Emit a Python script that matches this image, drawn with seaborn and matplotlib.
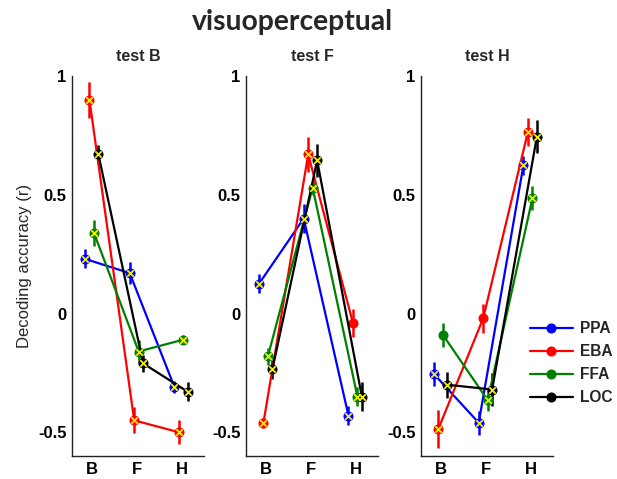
import numpy as np
import pandas as pd
import seaborn as sns
import matplotlib.pyplot as plt

# data
tests = ["test B", "test F", "test H"]
cond = ["B", "F", "H"]
rois = ["PPA", "EBA", "FFA", "LOC"]
colors = {"PPA": "#0000ff", "EBA": "#ff0000", "FFA": "#008000", "LOC": "#000000"}
offsets = {"PPA": -0.16, "EBA": -0.06, "FFA": 0.04, "LOC": 0.14}

# mean decoding accuracy per test panel, per ROI, for conditions B, F, H
test_B = {"PPA": [0.23, 0.17, -0.31], "EBA": [0.90, -0.45, -0.50],
          "FFA": [0.34, -0.16, -0.11], "LOC": [0.67, -0.21, -0.33]}
test_F = {"PPA": [0.125, 0.40, -0.43], "EBA": [-0.46, 0.67, -0.04],
          "FFA": [-0.18, 0.53, -0.35], "LOC": [-0.235, 0.645, -0.35]}
test_H = {"PPA": [-0.255, -0.46, 0.625], "EBA": [-0.485, -0.02, 0.765],
          "FFA": [-0.09, -0.365, 0.485], "LOC": [-0.30, -0.32, 0.745]}

# error bar half-lengths
err_B = {"PPA": [0.04, 0.045, 0.025], "EBA": [0.075, 0.055, 0.05],
         "FFA": [0.055, 0.05, 0.02], "LOC": [0.04, 0.035, 0.04]}
err_F = {"PPA": [0.04, 0.06, 0.04], "EBA": [0.02, 0.075, 0.06],
         "FFA": [0.035, 0.03, 0.04], "LOC": [0.04, 0.07, 0.06]}
err_H = {"PPA": [0.05, 0.05, 0.04], "EBA": [0.08, 0.06, 0.06],
         "FFA": [0.05, 0.045, 0.05], "LOC": [0.055, 0.07, 0.07]}

# yellow cross marks (1 = marked)
sig_B = {"PPA": [1, 1, 1], "EBA": [1, 1, 1], "FFA": [1, 1, 1], "LOC": [1, 1, 1]}
sig_F = {"PPA": [1, 1, 1], "EBA": [1, 1, 0], "FFA": [1, 1, 1], "LOC": [1, 1, 1]}
sig_H = {"PPA": [1, 1, 1], "EBA": [1, 0, 1], "FFA": [0, 1, 1], "LOC": [1, 1, 1]}

panels = [(test_B, err_B, sig_B), (test_F, err_F, sig_F), (test_H, err_H, sig_H)]

sns.set_style("white")
plt.rcParams["font.family"] = ["Liberation Sans", "DejaVu Sans"]

fig = plt.figure(figsize=(6.17, 4.79), dpi=100)
lefts = [72, 246, 421]
axes = []
for i, (means, errs, sigs) in enumerate(panels):
    ax = fig.add_axes([lefts[i] / 617, 1 - 456 / 479, 132 / 617, 380 / 479])
    axes.append(ax)
    rows = []
    for r in rois:
        for j, c in enumerate(cond):
            rows.append({"roi": r, "x": j + 1 + offsets[r], "y": means[r][j],
                         "err": errs[r][j], "sig": sigs[r][j]})
    df = pd.DataFrame(rows)
    for r in rois:
        d = df[df["roi"] == r]
        ax.errorbar(d["x"], d["y"], yerr=d["err"], fmt="none",
                    ecolor=colors[r], elinewidth=1.8, capsize=0, zorder=2)
        sns.lineplot(data=d, x="x", y="y", color=colors[r], marker="o",
                     markersize=6.5, markeredgecolor=colors[r], linewidth=1.6,
                     sort=False, ax=ax, zorder=3, label=r if i == 2 else None)
        ds = d[d["sig"] == 1]
        ax.scatter(ds["x"], ds["y"], marker="x", s=22, color="#f0f000",
                   linewidths=1.3, zorder=4)
    ax.set_xlim(0.55, 3.5)
    ax.set_ylim(-0.6, 1.0)
    ax.set_xticks([1, 2, 3])
    ax.set_xticklabels(cond)
    ax.set_yticks([-0.5, 0, 0.5, 1])
    ax.set_yticklabels(["-0.5", "0", "0.5", "1"])
    ax.set_xlabel("")
    ax.set_ylabel("")
    ax.tick_params(direction="in", length=3, width=1, labelsize=12,
                   pad=4, colors="black")
    for lab in ax.get_xticklabels() + ax.get_yticklabels():
        lab.set_fontweight("bold")
    sns.despine(ax=ax)
    for s in ["left", "bottom"]:
        ax.spines[s].set_color("#222222")
        ax.spines[s].set_linewidth(1.0)
    ax.set_title(tests[i], fontsize=11.5, fontweight="bold", pad=11)

axes[0].set_ylabel("Decoding accuracy (r)", fontsize=12)
leg = axes[2].legend(loc="upper left", bbox_to_anchor=(530 / 617, 1 - 321 / 479),
                     bbox_transform=fig.transFigure, frameon=False,
                     borderpad=0, borderaxespad=0,
                     handlelength=2.75, handletextpad=0.45, labelspacing=0.52,
                     prop={"size": 11.2, "weight": "bold"})

fig.text(292 / 617, 1 - 22 / 479, "visuoperceptual", ha="center", va="center",
         fontsize=20.3, fontweight="bold", family=["Lato", "DejaVu Sans"])

fig.savefig("out.png", dpi=100)
